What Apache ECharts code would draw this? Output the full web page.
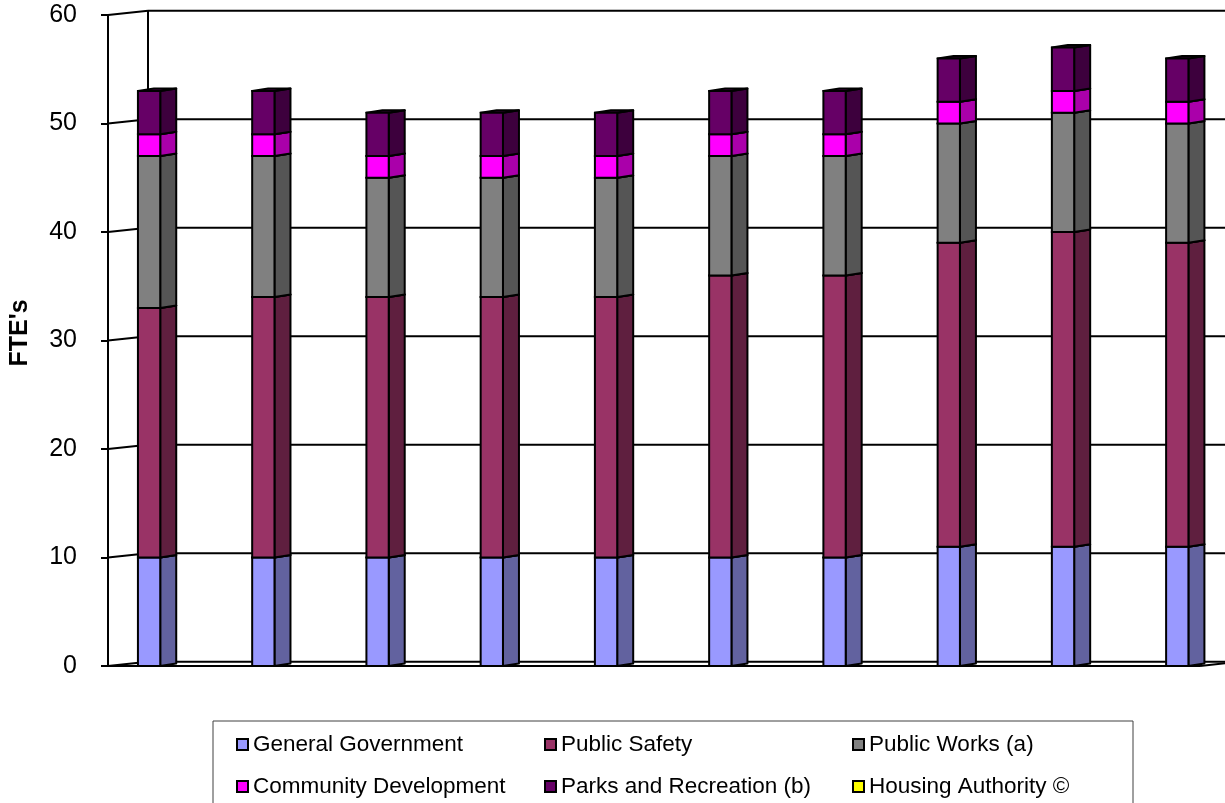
<!DOCTYPE html>
<html><head><meta charset="utf-8">
<script src="https://cdn.jsdelivr.net/npm/echarts@6/dist/echarts.min.js"></script>
<style>html,body{margin:0;padding:0;background:#fff}#c{width:1225px;height:803px}</style>
</head><body><div id="c"></div>
<script>
// ---- data ----
const categories = ['1','2','3','4','5','6','7','8','9','10'];
const generalGovernment    = [10,10,10,10,10,10,10,11,11,11];
const publicSafety         = [23,24,24,24,24,26,26,28,29,28];
const publicWorks          = [14,13,11,11,11,11,11,11,11,11];
const communityDevelopment = [2,2,2,2,2,2,2,2,2,2];
const parksRecreation      = [4,4,4,4,4,4,4,4,4,4];
const housingAuthority     = [0,0,0,0,0,0,0,0,0,0];
const seriesNames = ['General Government','Public Safety','Public Works (a)','Community Development','Parks and Recreation (b)','Housing Authority \u00a9'];
const yTicks = [0,10,20,30,40,50,60];

// ---- style ----
const frontColors = ['#9999ff','#993366','#808080','#ff00ff','#660066','#ffff00'];
const sideColors  = ['#62629f','#5f1f3f','#555555','#aa00aa','#3d003d','#aaaa00'];
const XMIN = -0.3596, XMAX = 9.199;
const WALL_DX = 40, WALL_DY = -4.3;
const BAR_HW = 11.15, BAR_DX = 16, BAR_DY = -2.5;
const LINE = {stroke:'#000', lineWidth:2};

const allSeries = [generalGovernment, publicSafety, publicWorks, communityDevelopment, parksRecreation, housingAuthority];
const bases = categories.map(()=>0);
const stackedData = allSeries.map(arr => arr.map((v,i) => { const b = bases[i]; bases[i] += v; return [i, b, b+v]; }));

function renderFrame(params, api){
  const v = api.value(1);
  const cs = params.coordSys;
  const p = api.coord([XMIN, v]);
  const x0 = cs.x, y = p[1], right = cs.x + cs.width;
  const ch = [
    {type:'line', shape:{x1:x0,y1:y,x2:x0+WALL_DX,y2:y+WALL_DY}, style:LINE},
    {type:'line', shape:{x1:x0+WALL_DX,y1:y+WALL_DY,x2:right+WALL_DX,y2:y+WALL_DY}, style:LINE}
  ];
  if (v === yTicks[0]) {
    ch.push({type:'line', shape:{x1:x0,y1:y,x2:right,y2:y}, style:LINE});
    ch.push({type:'line', shape:{x1:right,y1:y,x2:right+WALL_DX,y2:y+WALL_DY}, style:LINE});
  }
  if (v === yTicks[yTicks.length-1]) {
    const pb = api.coord([XMIN, yTicks[0]]);
    ch.push({type:'line', shape:{x1:x0+WALL_DX,y1:y+WALL_DY,x2:x0+WALL_DX,y2:pb[1]+WALL_DY}, style:LINE});
  }
  return {type:'group', children:ch};
}

function makeBarRenderer(s){
  return function(params, api){
    const i = api.value(0), b = api.value(1), t = api.value(2);
    if (t <= b) return;
    const p0 = api.coord([i, b]), p1 = api.coord([i, t]);
    const cx = p0[0], yb = p0[1], yt = p1[1];
    return {type:'group', children:[
      {type:'polygon', shape:{points:[[cx+BAR_HW,yt],[cx+BAR_HW+BAR_DX,yt+BAR_DY],[cx+BAR_HW+BAR_DX,yb+BAR_DY],[cx+BAR_HW,yb]]},
        style:{fill:sideColors[s], stroke:'#000', lineWidth:2, lineJoin:'round'}},
      {type:'polygon', shape:{points:[[cx-BAR_HW,yt],[cx-BAR_HW+BAR_DX,yt+BAR_DY],[cx+BAR_HW+BAR_DX,yt+BAR_DY],[cx+BAR_HW,yt]]},
        style:{fill:sideColors[s], stroke:'#000', lineWidth:2, lineJoin:'round'}},
      {type:'rect', shape:{x:cx-BAR_HW, y:yt, width:2*BAR_HW, height:yb-yt},
        style:{fill:frontColors[s], stroke:'#000', lineWidth:2}}
    ]};
  };
}

const series = [{
  type:'custom', name:'frame', renderItem:renderFrame, clip:false, silent:true,
  data: yTicks.map(v => [XMIN, v]), encode:{x:0, y:1}, z:1
}];
seriesNames.forEach((n, s) => {
  series.push({type:'custom', name:n, renderItem:makeBarRenderer(s), clip:false,
    itemStyle:{color:frontColors[s]}, data:stackedData[s], encode:{x:0, y:[1,2]}, z:2});
});

const chart = echarts.init(document.getElementById('c'), null, {renderer:'canvas'});
chart.setOption({
  animation:false,
  backgroundColor:'#fff',
  grid:{left:105, right:25, top:15, bottom:137},
  xAxis:{type:'value', min:XMIN, max:XMAX, show:false},
  yAxis:{type:'value', min:0, max:60, interval:10,
    name:"FTE's", nameLocation:'middle', nameRotate:90, nameGap:75,
    nameTextStyle:{fontFamily:'Liberation Sans', fontWeight:'bold', fontSize:25, color:'#000', padding:[0,0,0,15]},
    axisLine:{show:true, onZero:false, lineStyle:{color:'#000', width:2}},
    axisTick:{show:true, length:7, lineStyle:{color:'#000', width:2}},
    axisLabel:{fontFamily:'Liberation Sans', fontSize:25, color:'#000', margin:31},
    splitLine:{show:false}
  },
  legend:{
    data: seriesNames, left:213, top:721, orient:'horizontal', width:895,
    padding:[11,4,40,23], itemGap:17, itemWidth:11, itemHeight:11, icon:'rect',
    borderColor:'#404040', borderWidth:1, selectedMode:false,
    itemStyle:{borderColor:'#000', borderWidth:2},
    formatter: n => (seriesNames.indexOf(n) % 3 === 2 ? '{c|' + n + '}' : '{a|' + n + '}'),
    textStyle:{fontFamily:'Liberation Sans', fontSize:22.5, color:'#000',
      rich:{a:{width:274, height:25, lineHeight:25, fontFamily:'Liberation Sans', fontSize:22.5, color:'#000'},
            c:{width:260, height:25, lineHeight:25, fontFamily:'Liberation Sans', fontSize:22.5, color:'#000'}}}
  },
  series: series
});
</script></body></html>
